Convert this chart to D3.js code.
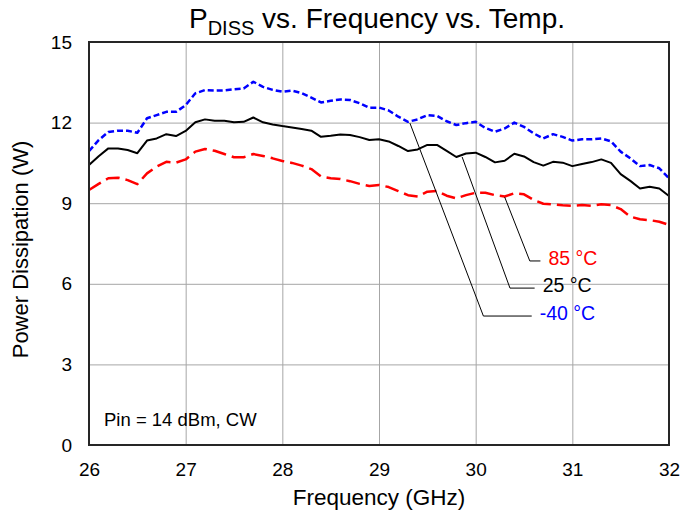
<!DOCTYPE html>
<html>
<head>
<meta charset="utf-8">
<script src="https://cdn.jsdelivr.net/npm/d3@7"></script>
<style>
body{margin:0;background:#fff;}
text{font-family:Arial,"Liberation Sans",sans-serif;}
</style>
</head>
<body>
<div class="plot"></div>
<script>
//frequency points, 0.1 GHz step
const freqs = [26.0,26.1,26.2,26.3,26.4,26.5,26.6,26.7,26.8,26.9,
	27.0,27.1,27.2,27.3,27.4,27.5,27.6,27.7,27.8,27.9,
	28.0,28.1,28.2,28.3,28.4,28.5,28.6,28.7,28.8,28.9,
	29.0,29.1,29.2,29.3,29.4,29.5,29.6,29.7,29.8,29.9,
	30.0,30.1,30.2,30.3,30.4,30.5,30.6,30.7,30.8,30.9,
	31.0,31.1,31.2,31.3,31.4,31.5,31.6,31.7,31.8,31.9,32.0];

const pdissM40 = [10.94,11.35,11.65,11.70,11.70,11.62,12.16,12.28,12.40,12.40,
	12.65,13.09,13.21,13.19,13.20,13.24,13.27,13.52,13.33,13.22,
	13.15,13.19,13.10,12.93,12.75,12.81,12.86,12.84,12.72,12.55,
	12.56,12.45,12.22,12.03,12.12,12.28,12.25,12.05,11.91,11.98,
	12.03,11.80,11.66,11.78,12.00,11.84,11.60,11.41,11.57,11.47,
	11.33,11.38,11.38,11.41,11.30,10.92,10.67,10.38,10.42,10.30,9.93];

const pdiss25 = [10.42,10.75,11.04,11.04,10.98,10.86,11.33,11.41,11.57,11.50,
	11.69,12.01,12.12,12.07,12.07,12.01,12.03,12.19,12.01,11.93,
	11.87,11.82,11.76,11.70,11.47,11.51,11.56,11.54,11.46,11.35,
	11.38,11.30,11.13,10.94,11.00,11.17,11.17,10.95,10.72,10.85,
	10.88,10.72,10.52,10.58,10.84,10.74,10.53,10.40,10.54,10.51,
	10.38,10.46,10.53,10.63,10.50,10.08,9.83,9.55,9.61,9.55,9.27];

const pdiss85 = [9.49,9.72,9.93,9.95,9.86,9.71,10.11,10.36,10.54,10.51,
	10.63,10.92,11.02,10.95,10.83,10.71,10.71,10.83,10.76,10.67,
	10.57,10.50,10.40,10.27,10.00,9.93,9.90,9.82,9.72,9.64,
	9.68,9.60,9.45,9.30,9.25,9.43,9.46,9.28,9.18,9.30,
	9.39,9.39,9.30,9.25,9.37,9.33,9.12,8.98,8.95,8.92,
	8.90,8.93,8.90,8.96,8.93,8.78,8.50,8.40,8.37,8.31,8.19];

const xTicks = [26,27,28,29,30,31,32];
const yTicks = [0,3,6,9,12,15];

//series styling + callout label (start on curve, elbow, end of leader, in data units)
const series = [
	{name:'85 °C', values:pdiss85, color:'#ff0000', dash:'14,6', width:2.5,
		lead:[[30.30,9.23],[30.56,6.85],[30.67,6.85]]},
	{name:'25 °C', values:pdiss25, color:'#000000', dash:null, width:2,
		lead:[[29.86,10.72],[30.355,5.84],[30.61,5.84]]},
	{name:'-40 °C', values:pdissM40, color:'#0000ff', dash:'6,3', width:2.5,
		lead:[[29.32,11.98],[30.08,4.80],[30.58,4.80]]}
];

const W = 681, H = 514;
const margin = {top:42, right:12, bottom:69, left:89};
const w = W - margin.left - margin.right,
	h = H - margin.top - margin.bottom;

const svg = d3.select('.plot').append('svg')
	.attr('width',W)
	.attr('height',H);

const x = d3.scaleLinear().domain([26,32]).range([margin.left, margin.left+w]);
const y = d3.scaleLinear().domain([0,15]).range([margin.top+h, margin.top]);

//gridlines
svg.append('g')
	.attr('transform','translate(0,'+(margin.top+h)+')')
	.call(d3.axisBottom(x).tickValues(xTicks).tickSize(-h).tickFormat(''))
	.call(g => g.select('.domain').remove())
	.selectAll('line').attr('stroke','#a6a6a6').attr('stroke-width',1);
svg.append('g')
	.attr('transform','translate('+margin.left+',0)')
	.call(d3.axisLeft(y).tickValues(yTicks).tickSize(-w).tickFormat(''))
	.call(g => g.select('.domain').remove())
	.selectAll('line').attr('stroke','#a6a6a6').attr('stroke-width',1);

//tick labels
svg.append('g')
	.attr('transform','translate(0,'+(margin.top+h)+')')
	.call(d3.axisBottom(x).tickValues(xTicks).tickSize(0).tickPadding(18).tickFormat(d3.format('d')))
	.call(g => g.select('.domain').remove())
	.selectAll('text').attr('font-size','19px').attr('fill','#000');
svg.append('g')
	.attr('transform','translate('+margin.left+',0)')
	.call(d3.axisLeft(y).tickValues(yTicks).tickSize(0).tickPadding(17).tickFormat(d3.format('d')))
	.call(g => g.select('.domain').remove())
	.selectAll('text').attr('font-size','19px').attr('fill','#000');

//data lines
const line = d3.line()
	.x(function(d,i){return x(freqs[i])})
	.y(function(d){return y(d)});

svg.append('g').selectAll('path.series')
	.data(series)
	.join('path')
	.attr('class','series')
	.attr('d',function(d){return line(d.values)})
	.attr('fill','none')
	.attr('stroke',function(d){return d.color})
	.attr('stroke-width',function(d){return d.width})
	.attr('stroke-dasharray',function(d){return d.dash})
	.attr('stroke-linejoin','round');

//plot border
svg.append('rect')
	.attr('x',margin.left)
	.attr('y',margin.top)
	.attr('width',w)
	.attr('height',h)
	.attr('fill','none')
	.attr('stroke','#262626')
	.attr('stroke-width',2);

//callout leaders + labels
const leader = d3.line()
	.x(function(d){return x(d[0])})
	.y(function(d){return y(d[1])});
series.forEach(function(s){
	svg.append('path')
		.attr('d',leader(s.lead))
		.attr('fill','none')
		.attr('stroke','#000')
		.attr('stroke-width',1);
	const end = s.lead[s.lead.length-1];
	svg.append('text')
		.attr('x',x(end[0])+8)
		.attr('y',y(end[1])-2.5)
		.attr('dy','0.35em')
		.attr('font-size','19.5px')
		.attr('fill',s.color)
		.text(s.name);
});

//note
svg.append('text')
	.attr('x',104)
	.attr('y',426)
	.attr('font-size','18.5px')
	.text('Pin = 14 dBm, CW');

//title
const title = svg.append('text')
	.attr('x',margin.left+w/2-2)
	.attr('y',28)
	.attr('text-anchor','middle')
	.attr('font-size','28px');
title.append('tspan').text('P');
title.append('tspan').attr('font-size','20px').attr('dy',7).text('DISS');
title.append('tspan').attr('dy',-7).text(' vs. Frequency vs. Temp.');

//axis titles
svg.append('text')
	.attr('x',margin.left+w/2)
	.attr('y',505)
	.attr('text-anchor','middle')
	.attr('font-size','22.5px')
	.text('Frequency (GHz)');
svg.append('text')
	.attr('transform','translate(28,'+(margin.top+h/2+6)+') rotate(-90)')
	.attr('text-anchor','middle')
	.attr('font-size','22px')
	.text('Power Dissipation (W)');
</script>
</body>
</html>
